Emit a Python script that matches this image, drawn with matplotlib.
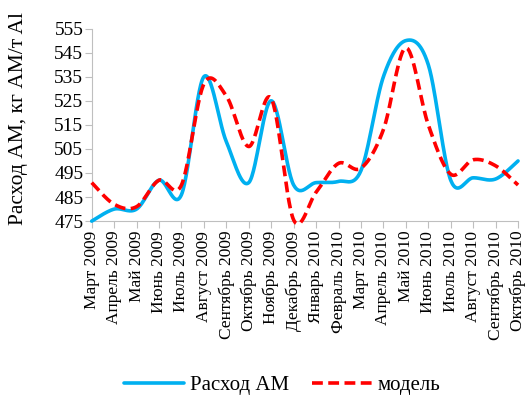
import matplotlib

matplotlib.use("Agg")
import matplotlib.pyplot as plt
import numpy as np

plt.rcParams["font.family"] = ["Liberation Serif", "DejaVu Serif"]

# ---------- data ----------
months = ["Март 2009", "Апрель 2009", "Май 2009", "Июнь 2009", "Июль 2009",
          "Август 2009", "Сентябрь 2009", "Октябрь 2009", "Ноябрь 2009",
          "Декабрь 2009", "Январь 2010", "Февраль 2010", "Март 2010",
          "Апрель 2010", "Май 2010", "Июнь 2010", "Июль 2010", "Август 2010",
          "Сентябрь 2010", "Октябрь 2010"]
rashod = [475, 480, 480, 492, 486, 535, 508, 491, 525, 490,
          491, 491.5, 496, 535, 550, 540, 492, 493, 492.5, 500]
model = [491, 482, 481, 492, 490, 532, 527, 506, 526, 475.5,
         487, 499, 497, 513, 547, 515, 494.5, 500.5, 498, 490]
yticks = [475, 485, 495, 505, 515, 525, 535, 545, 555]


def smooth(x, y, n=30):
    # Excel-style smoothed line: Bezier with Catmull-Rom control points
    x = np.asarray(x, float)
    y = np.asarray(y, float)
    px = np.concatenate([[x[0]], x, [x[-1]]])
    py = np.concatenate([[y[0]], y, [y[-1]]])
    t = np.linspace(0, 1, n)[:, None]
    xs, ys = [], []
    for i in range(1, len(x)):
        p0 = np.array([px[i], py[i]])
        p3 = np.array([px[i + 1], py[i + 1]])
        c1 = p0 + (np.array([px[i + 1], py[i + 1]]) - np.array([px[i - 1], py[i - 1]])) / 6
        c2 = p3 - (np.array([px[i + 2], py[i + 2]]) - np.array([px[i], py[i]])) / 6
        b = ((1 - t) ** 3) * p0 + 3 * ((1 - t) ** 2) * t * c1 + 3 * (1 - t) * t ** 2 * c2 + t ** 3 * p3
        xs.append(b[:, 0])
        ys.append(b[:, 1])
    return np.concatenate(xs), np.concatenate(ys)


fig = plt.figure(figsize=(5.27, 4.08), dpi=100)
ax = fig.add_axes([0.174, 0.458, 0.809, 0.472])

x = np.arange(len(months))
sx, sy = smooth(x, rashod)
ax.plot(sx, sy, color="#00B0F0", lw=2.6, label="Расход АМ", solid_capstyle="round")
mx, my = smooth(x, model)
ax.plot(mx, my, color="#FF0000", lw=2.6, dashes=(3, 1.5), label="модель")

ax.set_xlim(0, len(months) - 1)
ax.set_ylim(475, 555)
ax.set_yticks(yticks)
ax.tick_params(axis="y", length=5, color="#BFBFBF", labelsize=14, pad=1)
ax.set_xticks(x)
ax.set_xticklabels(months, rotation=90, fontsize=12.5)
ax.tick_params(axis="x", length=5, color="#BFBFBF", pad=2)
for side in ["top", "right"]:
    ax.spines[side].set_visible(False)
for side in ["bottom", "left"]:
    ax.spines[side].set_color("#BFBFBF")
    ax.spines[side].set_zorder(0)
for line in ax.lines:
    line.set_clip_on(False)

ax.set_ylabel("Расход АМ, кг АМ/т Al", fontsize=15.5)
ax.yaxis.set_label_coords(-0.15, 0.535)

fig.legend(loc="lower center", bbox_to_anchor=(0.535, -0.015), ncol=2, frameon=False,
           fontsize=15, handlelength=2.9, columnspacing=1.1, handletextpad=0.25)

fig.savefig("out.png", dpi=100)
